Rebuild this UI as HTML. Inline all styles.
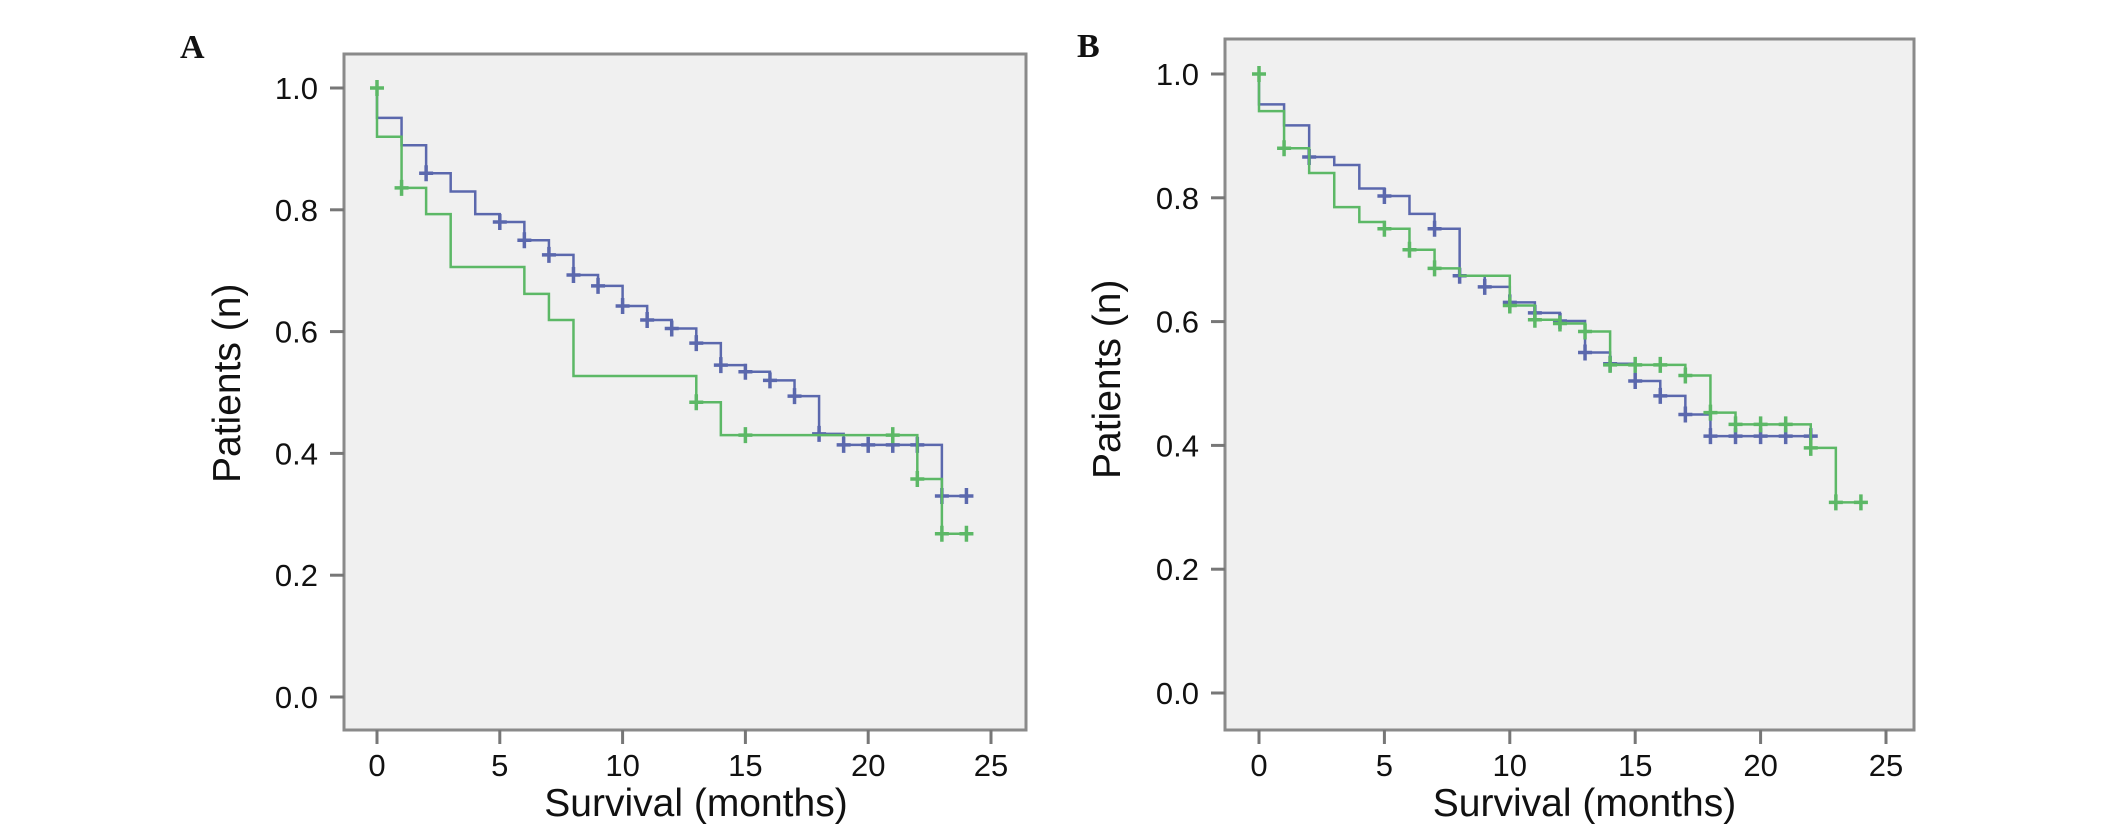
<!DOCTYPE html>
<html><head><meta charset="utf-8"><style>
html,body{margin:0;padding:0;background:#fff;}
svg{display:block;}
text{font-family:"Liberation Sans",sans-serif;fill:#111;}
</style></head><body>
<svg id="chart" width="2126" height="830" viewBox="0 0 2126 830" xmlns="http://www.w3.org/2000/svg"></svg>
<script>
const xTicks=[0,5,10,15,20,25];
const yTicks=[0.0,0.2,0.4,0.6,0.8,1.0];
const yTickLabels=["0.0","0.2","0.4","0.6","0.8","1.0"];
// Panel A
const aBlueTimes=[0,1,2,3,4,5,6,7,8,9,10,11,12,13,14,15,16,17,18,19,23];
const aBlueVals=[0.951,0.906,0.86,0.83,0.793,0.78,0.75,0.726,0.693,0.675,0.642,0.619,0.605,0.581,0.545,0.534,0.52,0.494,0.432,0.414,0.33];
const aBlueCensor=[2,5,6,7,8,9,10,11,12,13,14,15,16,17,18,19,20,21,22,23,24];
const aBlueEnd=24;
const aGreenTimes=[0,1,2,3,6,7,8,13,14,22,23];
const aGreenVals=[0.92,0.836,0.793,0.706,0.662,0.619,0.527,0.484,0.43,0.358,0.268];
const aGreenCensor=[1,13,15,21,22,23,24];
const aGreenEnd=24;
// Panel B
const bBlueTimes=[0,1,2,3,4,5,6,7,8,9,10,11,12,13,14,15,16,17,18];
const bBlueVals=[0.951,0.917,0.866,0.853,0.815,0.803,0.774,0.75,0.674,0.656,0.631,0.614,0.601,0.55,0.532,0.504,0.48,0.45,0.415];
const bBlueCensor=[2,5,7,8,9,10,11,12,13,14,15,16,17,18,19,20,21,22];
const bBlueEnd=22;
const bGreenTimes=[0,1,2,3,4,5,6,7,8,10,11,12,13,14,17,18,19,22,23];
const bGreenVals=[0.94,0.88,0.84,0.785,0.761,0.75,0.716,0.686,0.674,0.626,0.603,0.597,0.584,0.53,0.513,0.453,0.434,0.396,0.308];
const bGreenCensor=[1,5,6,7,10,11,12,13,14,15,16,17,18,19,20,21,22,23,24];
const bGreenEnd=24;

const NS="http://www.w3.org/2000/svg";
const svg=document.getElementById('chart');
function mk(tag,attrs,parent){const e=document.createElementNS(NS,tag);for(const k in attrs)e.setAttribute(k,attrs[k]);(parent||svg).appendChild(e);return e;}
const BLUE="#5b68ad", GREEN="#5cb866";

function panel(cfg){
  const g=mk('g',{});
  
  
  const X=t=>cfg.x0+(cfg.x25-cfg.x0)*t/25;
  const Y=v=>cfg.y0+(cfg.y1-cfg.y0)*v;
  const bg=mk('rect',{x:cfg.left,y:cfg.top,width:cfg.right-cfg.left,height:cfg.bottom-cfg.top,fill:'#f0f0f0',stroke:'#8a8a8a','stroke-width':3},g);
  
  
  yTicks.forEach((v,i)=>{
    mk('line',{x1:cfg.left-14,x2:cfg.left,y1:Y(v),y2:Y(v),stroke:'#777','stroke-width':3},g);
    const t=mk('text',{x:cfg.left-26,y:Y(v)+11,'text-anchor':'end','font-size':31},g);
    
    
    t.textContent=yTickLabels[i];
  });
  xTicks.forEach(v=>{
    mk('line',{x1:X(v),x2:X(v),y1:cfg.bottom,y2:cfg.bottom+14,stroke:'#777','stroke-width':3},g);
    const t=mk('text',{x:X(v),y:cfg.bottom+46,'text-anchor':'middle','font-size':31},g);
    
    
    t.textContent=String(v);
  });
  const xt=mk('text',{x:(X(0)+X(25))/2+12,y:816,'text-anchor':'middle','font-size':39},g);
  
  
  xt.textContent='Survival (months)';
  const yt=mk('text',{x:0,y:0,'text-anchor':'start','font-size':39,transform:`translate(${cfg.ylabX},${cfg.ylabY}) rotate(-90)`},g);
  
  
  yt.textContent='Patients (n)';
  const pl=mk('text',{x:cfg.labX,y:cfg.labY,'font-size':34,'font-weight':'bold',style:'font-family:"Liberation Serif",serif'},g);
  
  
  pl.textContent=cfg.label;
  cfg.series.forEach(s=>{
    let d=`M${X(0)},${Y(1)}`;
    for(let i=0;i<s.times.length;i++){
      d+=` L${X(s.times[i])},${Y(s.vals[i])}`;
      const next=i+1<s.times.length?s.times[i+1]:s.end;
      d+=` L${X(next)},${Y(s.vals[i])}`;
    }
    const p=mk('path',{d:d,fill:'none',stroke:s.color,'stroke-width':2.5},g);
    
    
    const S=t=>{let v=1;for(let i=0;i<s.times.length;i++){if(s.times[i]<=t)v=s.vals[i];}return v;};
    const pts=s.start?[[0,1]]:[];
    s.censor.forEach(t=>pts.push([t,S(t)]));
    pts.forEach(([t,v])=>{
      const c=mk('path',{d:`M${X(t)-7},${Y(v)} H${X(t)+7} M${X(t)},${Y(v)-8} V${Y(v)+8}`,stroke:s.color,'stroke-width':3.5},g);
      
      
    });
  });
}
panel({name:'panel-a',label:'A',labX:180,labY:58,left:344,top:54,right:1026,bottom:730,x0:377,x25:991,y0:697,y1:88,ylabX:240,ylabY:483,
  series:[{name:'blue',color:BLUE,times:aBlueTimes,vals:aBlueVals,censor:aBlueCensor,end:aBlueEnd},
          {name:'green',color:GREEN,times:aGreenTimes,vals:aGreenVals,censor:aGreenCensor,end:aGreenEnd,start:true}]});
panel({name:'panel-b',label:'B',labX:1077,labY:57,left:1225,top:39,right:1914,bottom:730,x0:1259,x25:1886,y0:693,y1:74,ylabX:1120,ylabY:479,
  series:[{name:'blue',color:BLUE,times:bBlueTimes,vals:bBlueVals,censor:bBlueCensor,end:bBlueEnd},
          {name:'green',color:GREEN,times:bGreenTimes,vals:bGreenVals,censor:bGreenCensor,end:bGreenEnd,start:true}]});
</script>
</body></html>
